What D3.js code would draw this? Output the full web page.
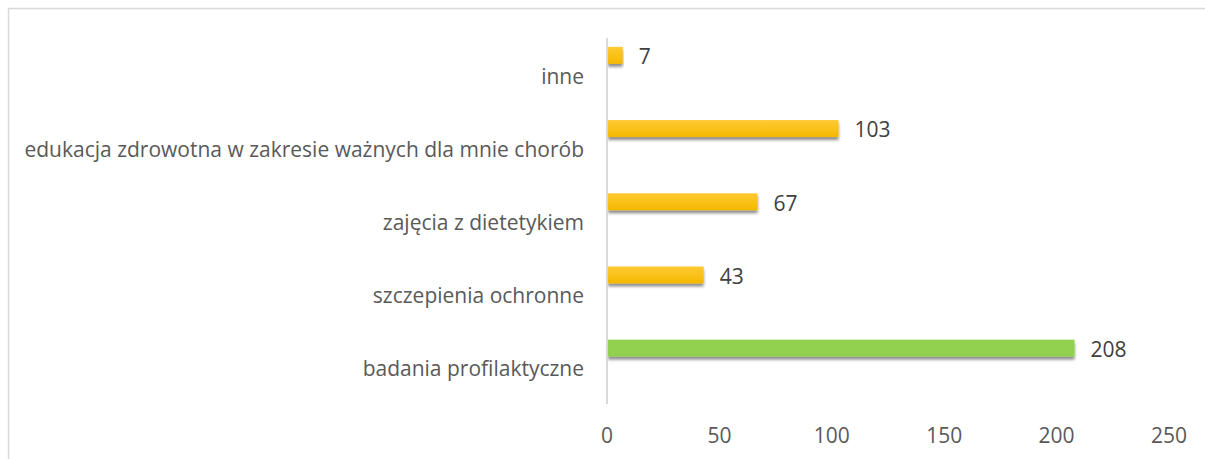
<!DOCTYPE html>
<html>
<head>
<meta charset="utf-8">
<script src="https://cdn.jsdelivr.net/npm/d3@7"></script>
<style>
  body { margin: 0; background: #fff; }
  text { font-family: "Open Sans", sans-serif; }
</style>
</head>
<body>
<script>
// categories top to bottom, as in the picture
var categories = [
    'inne',
    'edukacja zdrowotna w zakresie ważnych dla mnie chorób',
    'zajęcia z dietetykiem',
    'szczepienia ochronne',
    'badania profilaktyczne'
];
var values = [7, 103, 67, 43, 208];
var highlighted = [false, false, false, false, true];
var xTicks = [0, 50, 100, 150, 200, 250];

var svgWidth = 1205;
var svgHeight = 459;
var fontSize = 21;

var svg = d3.select('body')
    .append('svg')
    .attr('width', svgWidth)
    .attr('height', svgHeight);

var defs = svg.append('defs');

var grad = defs.append('linearGradient')
    .attr('id', 'yellowGrad')
    .attr('x1', 0).attr('y1', 0)
    .attr('x2', 0).attr('y2', 1);
grad.append('stop').attr('offset', '0%').attr('stop-color', '#ffca33');
grad.append('stop').attr('offset', '100%').attr('stop-color', '#f4b800');

var shadow = defs.append('filter')
    .attr('id', 'shadow')
    .attr('x', '-5%').attr('y', '-50%')
    .attr('width', '110%').attr('height', '220%');
shadow.append('feDropShadow')
    .attr('dx', 0)
    .attr('dy', 3)
    .attr('stdDeviation', 1.8)
    .attr('flood-color', '#000')
    .attr('flood-opacity', 0.45);

// frame round the chart area
svg.append('rect')
    .attr('x', 8.5)
    .attr('y', 8.5)
    .attr('width', svgWidth)
    .attr('height', svgHeight)
    .attr('fill', 'none')
    .attr('stroke', '#d9d9d9')
    .attr('stroke-width', 1.5);

var x = d3.scaleLinear()
    .domain([0, 250])
    .range([607, 1169]);

var y = d3.scaleBand()
    .domain(categories)
    .range([38, 404]);

// second (empty) series slot, which is why bars sit above the label
var inner = d3.scaleBand()
    .domain(['value', 'empty'])
    .range([0, y.bandwidth()])
    .paddingInner(0.56)
    .paddingOuter(0.23);

// x axis labels only
svg.append('g')
    .selectAll('text')
    .data(xTicks)
    .enter()
    .append('text')
    .attr('x', function (d) { return x(d); })
    .attr('y', 436)
    .attr('dy', '0.35em')
    .attr('text-anchor', 'middle')
    .attr('font-size', fontSize)
    .attr('fill', '#595959')
    .text(function (d) { return d; });

// category labels
svg.append('g')
    .selectAll('text')
    .data(categories)
    .enter()
    .append('text')
    .attr('x', 584)
    .attr('y', function (d) { return y(d) + y.bandwidth() / 2; })
    .attr('dy', '0.43em')
    .attr('text-anchor', 'end')
    .attr('font-size', fontSize)
    .attr('fill', '#595959')
    .text(function (d) { return d; });

// bars
svg.append('g')
    .selectAll('rect')
    .data(values)
    .enter()
    .append('rect')
    .attr('x', x(0) + 1)
    .attr('y', function (d, i) { return y(categories[i]) + inner('value'); })
    .attr('width', function (d) { return x(d) - x(0) - 1; })
    .attr('height', inner.bandwidth())
    .attr('fill', function (d, i) { return highlighted[i] ? '#92d050' : 'url(#yellowGrad)'; })
    .attr('filter', 'url(#shadow)');

// value labels
svg.append('g')
    .selectAll('text')
    .data(values)
    .enter()
    .append('text')
    .attr('x', function (d) { return x(d) + 16; })
    .attr('y', function (d, i) { return y(categories[i]) + inner('value') + inner.bandwidth() / 2; })
    .attr('dy', '0.42em')
    .attr('font-size', fontSize)
    .attr('fill', '#404040')
    .text(function (d) { return d; });

// vertical axis line
svg.append('line')
    .attr('x1', x(0))
    .attr('x2', x(0))
    .attr('y1', 38)
    .attr('y2', 404)
    .attr('stroke', '#d9d9d9')
    .attr('stroke-width', 2);
</script>
</body>
</html>
